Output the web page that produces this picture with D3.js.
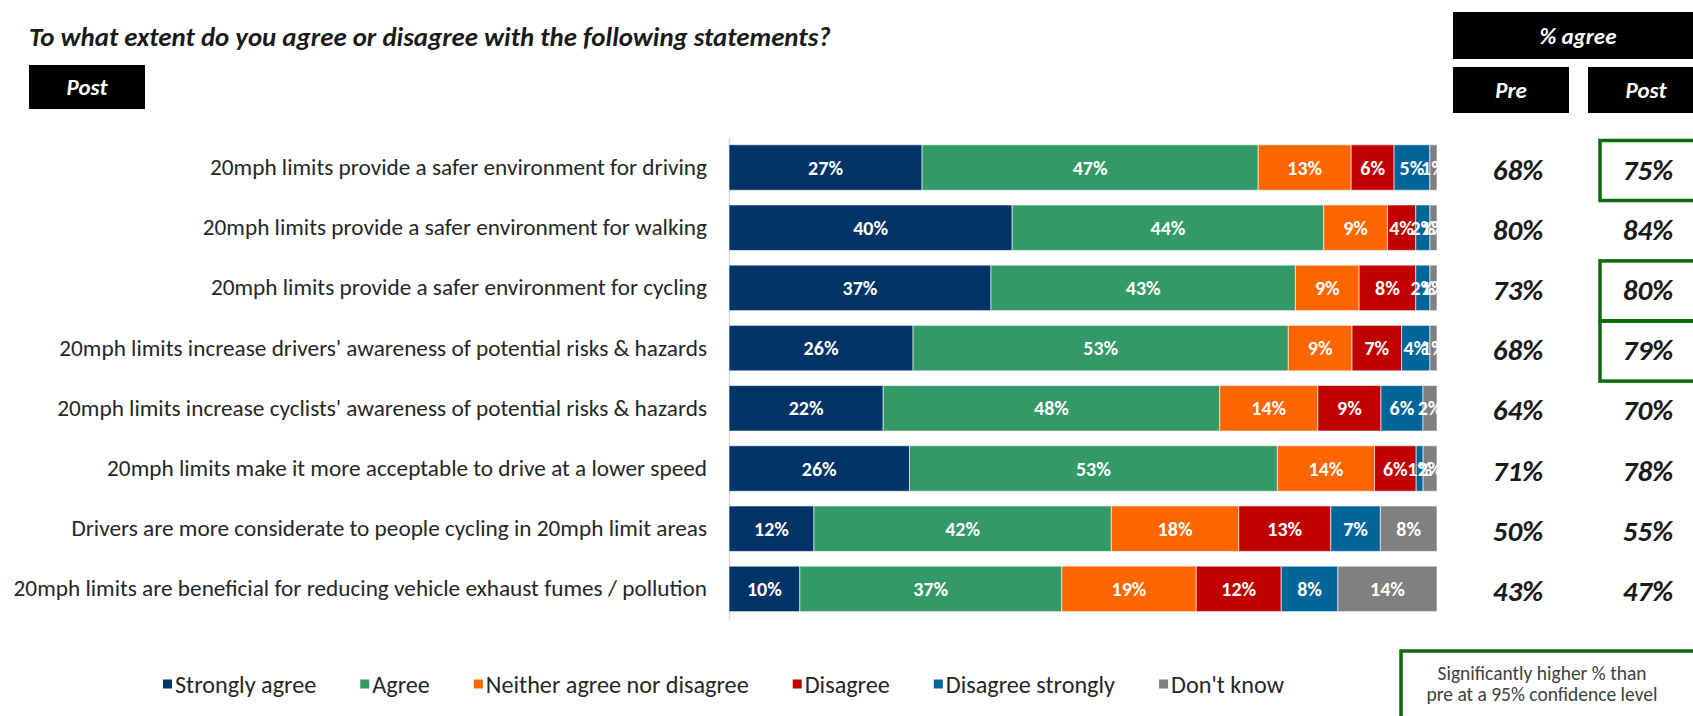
<!DOCTYPE html>
<html><head><meta charset="utf-8">
<script src="https://cdn.jsdelivr.net/npm/d3@7"></script>
<style>body{margin:0;background:#fff;} svg{display:block}</style>
</head><body><svg id="c" width="1693" height="716"></svg>
<script>
const titleText = "To what extent do you agree or disagree with the following statements?";
const categories = [
  "20mph limits provide a safer environment for driving",
  "20mph limits provide a safer environment for walking",
  "20mph limits provide a safer environment for cycling",
  "20mph limits increase drivers' awareness of potential risks & hazards",
  "20mph limits increase cyclists' awareness of potential risks & hazards",
  "20mph limits make it more acceptable to drive at a lower speed",
  "Drivers are more considerate to people cycling in 20mph limit areas",
  "20mph limits are beneficial for reducing vehicle exhaust fumes / pollution"
];
const series = ["Strongly agree","Agree","Neither agree nor disagree","Disagree","Disagree strongly","Don't know"];
const stronglyAgree    = [27,40,37,26,22,26,12,10];
const agree            = [47,44,43,53,48,53,42,37];
const neither          = [13, 9, 9, 9,14,14,18,19];
const disagree         = [ 6, 4, 8, 7, 9, 6,13,12];
const disagreeStrongly = [ 5, 2, 2, 4, 6, 1, 7, 8];
const dontKnow         = [ 1, 1, 1, 1, 2, 2, 8,14];
const preAgree  = [68,80,73,68,64,71,50,43];
const postAgree = [75,84,80,79,70,78,55,47];
const significant = [true,false,true,true,false,false,false,false];
const seriesColors = ["#003366","#339966","#FF6600","#C00000","#006699","#808080"];
const sigNote = ["Significantly higher % than","pre at a 95% confidence level"];

const FONT = "Carlito, Calibri, Lato, 'Open Sans', sans-serif";
const svg = d3.select("#c").attr("font-family", FONT);

const cols = [stronglyAgree, agree, neither, disagree, disagreeStrongly, dontKnow];
const rows = categories.map((c,i) => {
  const r = {cat:c};
  series.forEach((s,k) => r[s] = cols[k][i]);
  return r;
});

const x = d3.scaleLinear().domain([0,1]).range([729,1437]);
const y = d3.scaleBand().domain(categories).range([137.4,619]).paddingInner(0.245).paddingOuter(0.1225);
const color = d3.scaleOrdinal().domain(series).range(seriesColors);
const stacked = d3.stack().keys(series).offset(d3.stackOffsetExpand)(rows);

function fitGroup(sel, target, base) {
  sel.attr("font-size", base);
  let mx = 0;
  sel.each(function(){ mx = Math.max(mx, this.getComputedTextLength()); });
  const fs = base * target / mx;
  sel.attr("font-size", fs);
  return fs;
}

// Title
const title = svg.append("text").attr("x", 29).attr("y", 36).attr("dominant-baseline","central")
  .attr("font-weight","bold").attr("font-style","italic").attr("fill","#1a1a1a").text(titleText);
fitGroup(title, 802, 20);

// Header boxes
const headers = [
  {t:"Post", x:29, y:65, w:116, h:44},
  {t:"% agree", x:1453, y:12, w:250, h:47},
  {t:"Pre", x:1453, y:67, w:116, h:46},
  {t:"Post", x:1588, y:67, w:116, h:46}
];
const hg = svg.append("g").selectAll("g").data(headers).join("g");
hg.append("rect").attr("x",d=>d.x).attr("y",d=>d.y).attr("width",d=>d.w).attr("height",d=>d.h).attr("fill","#000");
hg.append("text").attr("x",d=>d.x + (d.t==="% agree" ? 125 : d.w/2)).attr("y",d=>d.y+d.h/2)
  .attr("text-anchor","middle").attr("dominant-baseline","central")
  .attr("fill","#fff").attr("font-weight","bold").attr("font-style","italic").attr("font-size",23).text(d=>d.t);

// Axis with category labels
const axis = svg.append("g").attr("transform",`translate(${x(0)},0)`)
  .call(d3.axisLeft(y).tickSize(0).tickSizeOuter(0).tickPadding(22));
axis.select(".domain").attr("stroke","#d9d9d9").attr("stroke-width",1.5);
const ticks = axis.selectAll(".tick text").attr("fill","#262626").attr("font-family",FONT);
fitGroup(ticks, 694, 18);

// Bars
const layer = svg.append("g").selectAll("g").data(stacked).join("g").attr("fill", d => color(d.key));
layer.selectAll("rect").data(d => d).join("rect")
  .attr("x", d => x(d[0])).attr("width", d => x(d[1]) - x(d[0]))
  .attr("y", d => y(d.data.cat)).attr("height", y.bandwidth())
  .attr("stroke","#fff").attr("stroke-opacity",0.6).attr("stroke-width",1);

// Segment labels
const lab = svg.append("g").selectAll("g").data(stacked).join("g");
lab.selectAll("text").data(d => d.map(v => ({v, key:d.key}))).join("text")
  .attr("x", d => (x(d.v[0]) + x(d.v[1]))/2)
  .attr("y", d => y(d.v.data.cat) + y.bandwidth()/2)
  .attr("text-anchor","middle").attr("dominant-baseline","central")
  .attr("fill","#fff").attr("font-size",20).attr("font-weight",600)
  .text(d => d.v.data[d.key] + "%");

// Pre / Post % agree
const vals = svg.append("g");
vals.selectAll("text.pre").data(preAgree).join("text").attr("class","pre")
  .attr("x",1518).attr("y",(d,i)=>y(categories[i])+y.bandwidth()/2+2)
  .attr("text-anchor","middle").attr("dominant-baseline","central")
  .attr("font-weight","bold").attr("font-style","italic").attr("font-size",29).attr("fill","#1a1a1a")
  .text(d=>d+"%");
vals.selectAll("text.post").data(postAgree).join("text").attr("class","post")
  .attr("x",1648).attr("y",(d,i)=>y(categories[i])+y.bandwidth()/2+2)
  .attr("text-anchor","middle").attr("dominant-baseline","central")
  .attr("font-weight","bold").attr("font-style","italic").attr("font-size",29).attr("fill","#1a1a1a")
  .text(d=>d+"%");
vals.selectAll("rect.sig").data(categories.filter((c,i)=>significant[i])).join("rect").attr("class","sig")
  .attr("x",1600).attr("y",c=>y(c)+y.bandwidth()/2+3-30).attr("width",130).attr("height",60)
  .attr("fill","none").attr("stroke","#0a6b0a").attr("stroke-width",3.5);

// Legend
const leg = svg.append("g");
const legTexts = leg.selectAll("text").data(series).join("text")
  .attr("y",684).attr("dominant-baseline","central").attr("fill","#262626").text(d=>d);
legTexts.attr("font-size",20);
let tot = 0; const ws = [];
legTexts.each(function(){ const w=this.getComputedTextLength(); ws.push(w); tot+=w; });
const lfs = 20*829/tot;
legTexts.attr("font-size", lfs);
let lx = 163;
series.forEach((s,i) => {
  leg.append("rect").attr("x",lx).attr("y",679.5).attr("width",9).attr("height",9).attr("fill",color(s));
  legTexts.filter(d=>d===s).attr("x", lx+12);
  lx += 12 + ws[i]*lfs/20 + 44;
});

// Significance note box
svg.append("rect").attr("x",1401).attr("y",651).attr("width",330).attr("height",100)
  .attr("fill","none").attr("stroke","#0a6b0a").attr("stroke-width",3.5);
const note = svg.append("g").selectAll("text").data(sigNote).join("text")
  .attr("x",1542).attr("y",(d,i)=>673+i*21).attr("text-anchor","middle").attr("dominant-baseline","central")
  .attr("fill","#404040").text(d=>d);
fitGroup(note.filter((d,i)=>i===1), 231, 15);
note.attr("font-size", note.filter((d,i)=>i===1).attr("font-size"));
</script></body></html>
